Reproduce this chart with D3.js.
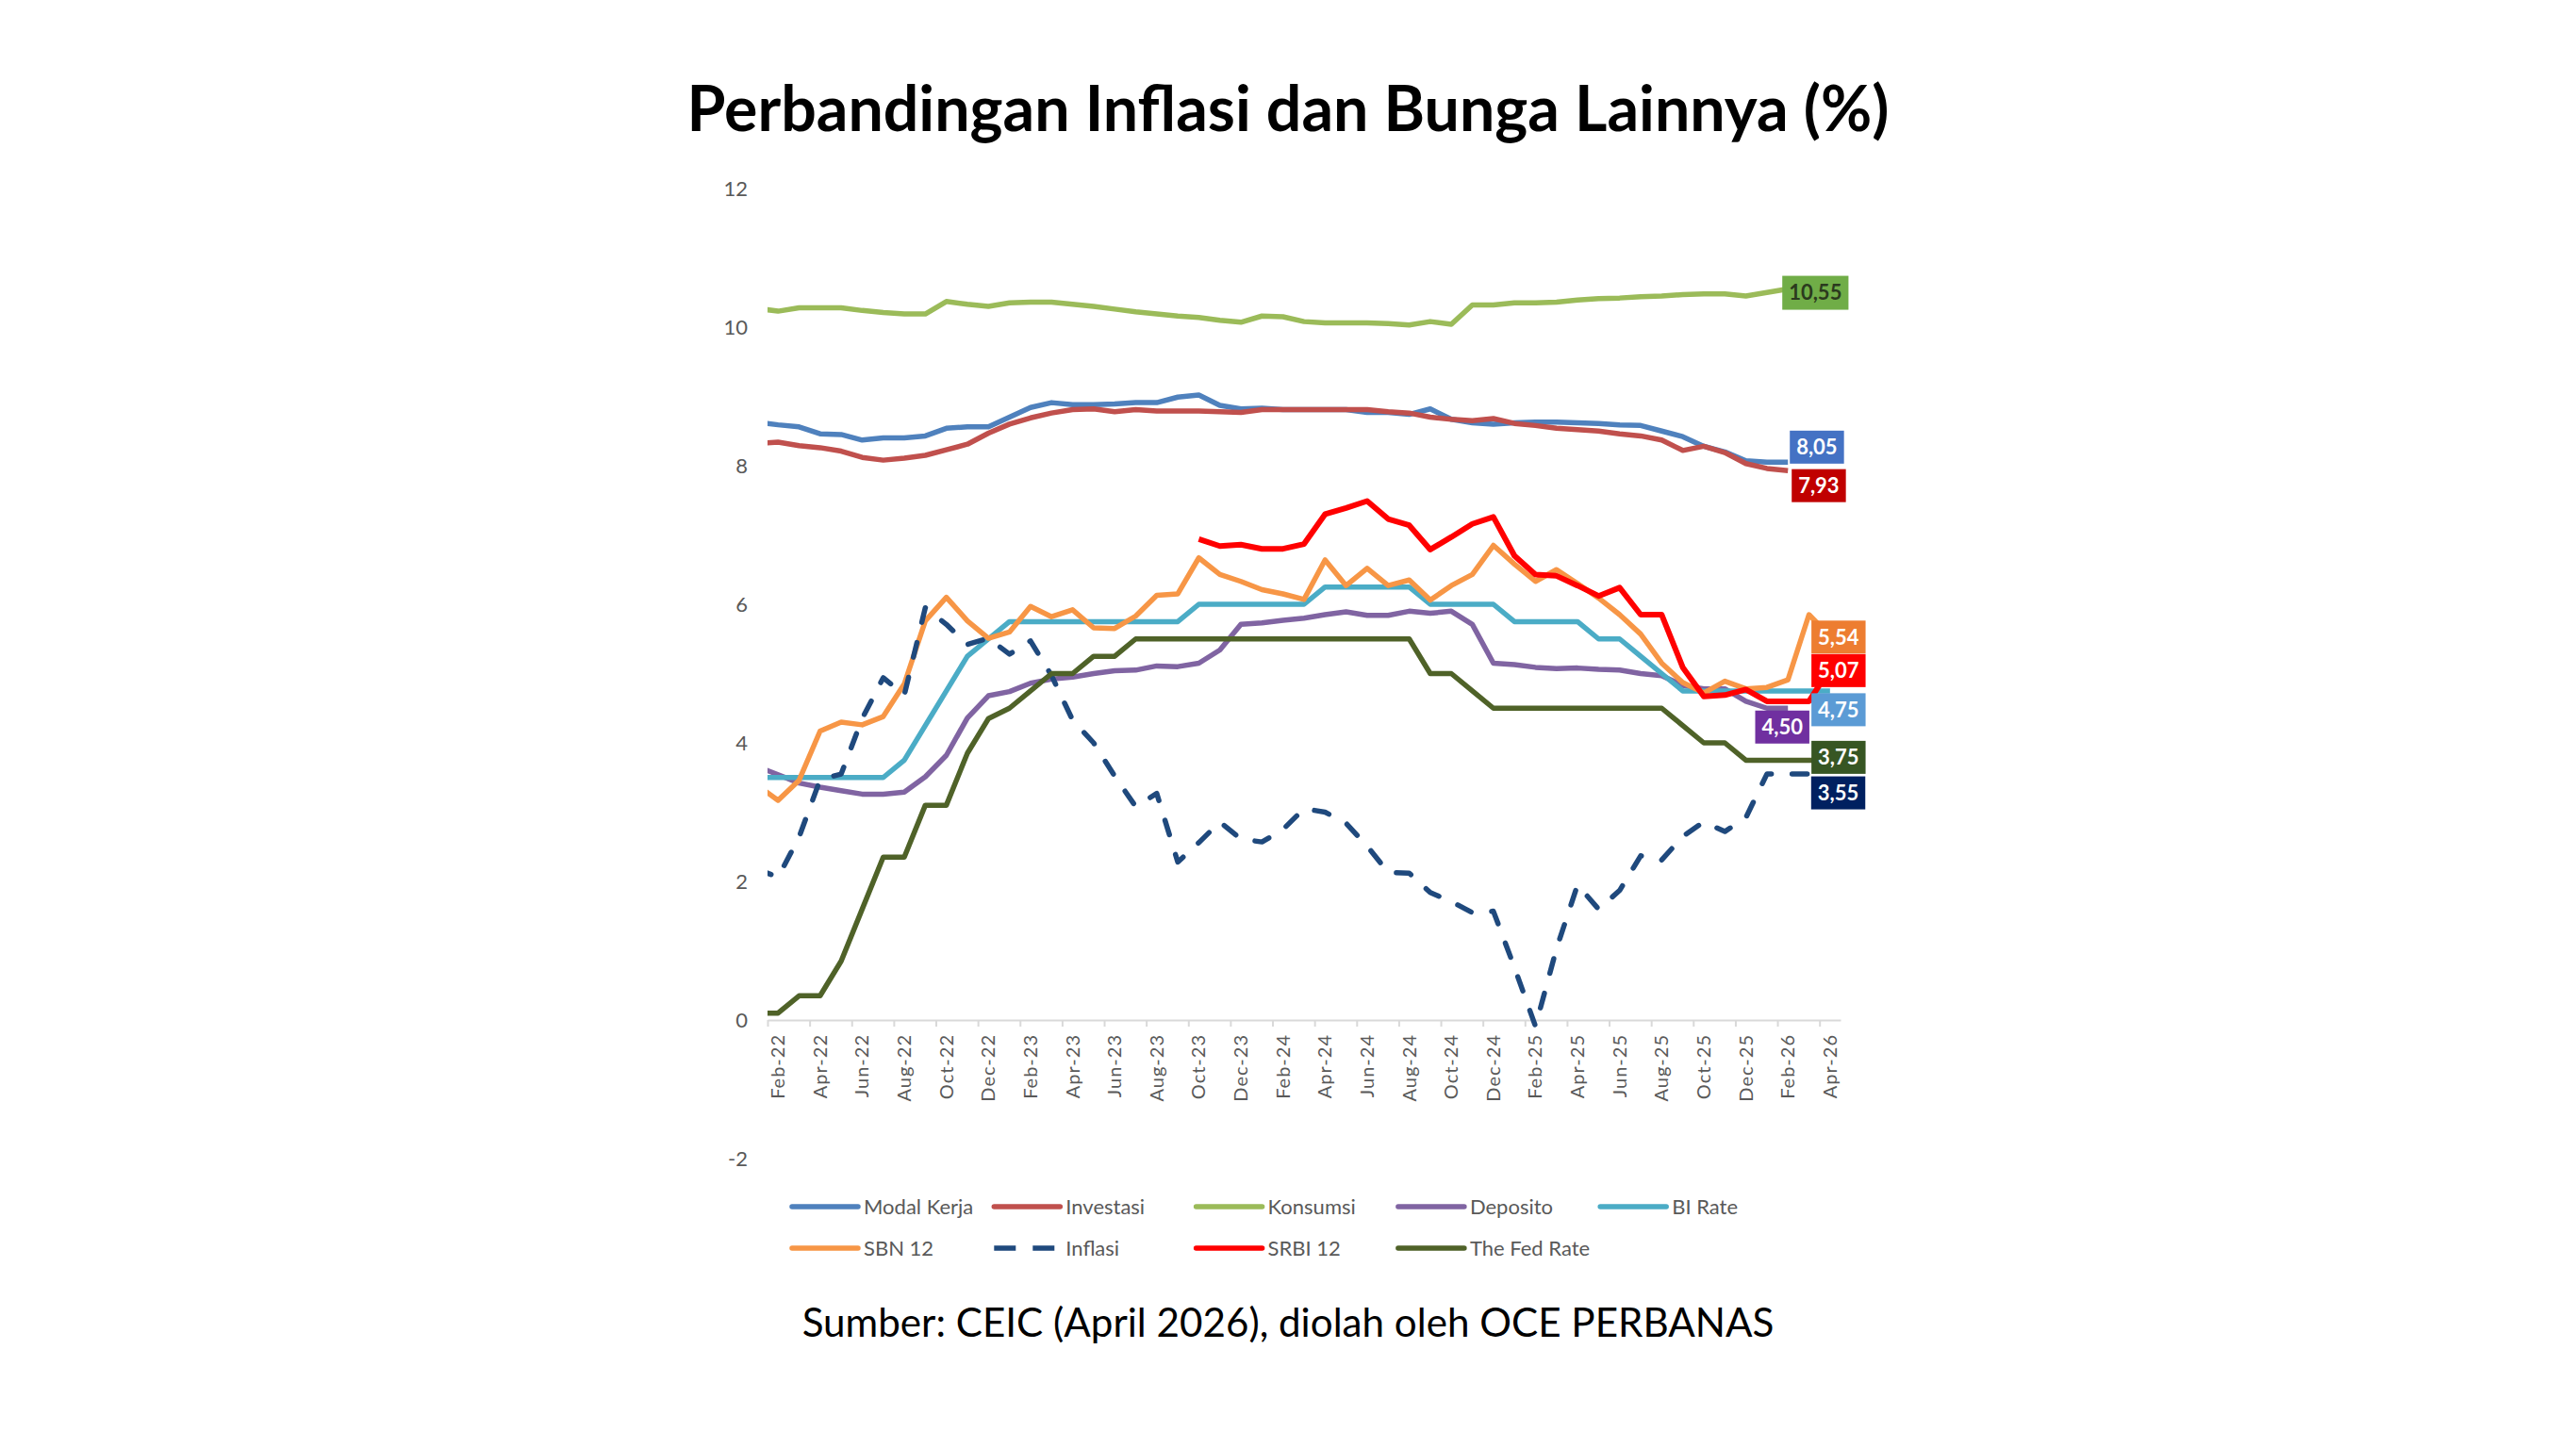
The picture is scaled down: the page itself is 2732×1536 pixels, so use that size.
<!DOCTYPE html>
<html>
<head>
<meta charset="utf-8">
<script src="https://cdn.jsdelivr.net/npm/d3@7"></script>
<style>
  body { margin: 0; background: #fff; }
  svg { display: block; }
</style>
</head>
<body>
<script>
const width = 2732;
const height = 1536;
const plot = { left: 814, right: 1952, top: 200, bottom: 1229 };

// Jan-22 sits just left of the axis start; Excel clips it at the plot edge.
const months = [
  'Jan-22', 'Feb-22', 'Mar-22', 'Apr-22', 'May-22', 'Jun-22', 'Jul-22', 'Aug-22', 'Sep-22', 'Oct-22', 'Nov-22', 'Dec-22',
  'Jan-23', 'Feb-23', 'Mar-23', 'Apr-23', 'May-23', 'Jun-23', 'Jul-23', 'Aug-23', 'Sep-23', 'Oct-23', 'Nov-23', 'Dec-23',
  'Jan-24', 'Feb-24', 'Mar-24', 'Apr-24', 'May-24', 'Jun-24', 'Jul-24', 'Aug-24', 'Sep-24', 'Oct-24', 'Nov-24', 'Dec-24',
  'Jan-25', 'Feb-25', 'Mar-25', 'Apr-25', 'May-25', 'Jun-25', 'Jul-25', 'Aug-25', 'Sep-25', 'Oct-25', 'Nov-25', 'Dec-25',
  'Jan-26', 'Feb-26', 'Mar-26', 'Apr-26',
];

const modalKerja = [
  8.63, 8.59, 8.56, 8.46, 8.45, 8.37, 8.40, 8.40, 8.43, 8.54, 8.56, 8.56,
  8.70, 8.84, 8.91, 8.88, 8.88, 8.89, 8.91, 8.91, 8.99, 9.02, 8.87, 8.82,
  8.83, 8.81, 8.81, 8.81, 8.81, 8.77, 8.77, 8.74, 8.82, 8.67, 8.62, 8.60,
  8.62, 8.63, 8.63, 8.62, 8.61, 8.59, 8.58, 8.50, 8.42, 8.28, 8.20, 8.07,
  8.05, 8.05, null, null,
];

const investasi = [
  8.32, 8.34, 8.29, 8.26, 8.21, 8.12, 8.08, 8.11, 8.15, 8.23, 8.31, 8.47,
  8.60, 8.69, 8.76, 8.81, 8.82, 8.78, 8.81, 8.79, 8.79, 8.79, 8.78, 8.77,
  8.81, 8.81, 8.81, 8.81, 8.81, 8.81, 8.78, 8.76, 8.70, 8.67, 8.65, 8.68,
  8.61, 8.58, 8.54, 8.52, 8.50, 8.46, 8.43, 8.37, 8.22, 8.28, 8.19, 8.03,
  7.96, 7.93, null, null,
];

const konsumsi = [
  10.27, 10.23, 10.28, 10.28, 10.28, 10.24, 10.21, 10.19, 10.19, 10.37, 10.33, 10.30,
  10.35, 10.36, 10.36, 10.33, 10.30, 10.26, 10.22, 10.19, 10.16, 10.14, 10.10, 10.07,
  10.16, 10.15, 10.08, 10.06, 10.06, 10.06, 10.05, 10.03, 10.08, 10.04, 10.32, 10.32,
  10.35, 10.35, 10.36, 10.39, 10.41, 10.42, 10.44, 10.45, 10.47, 10.48, 10.48, 10.45,
  10.50, 10.55, null, null,
];

const deposito = [
  3.66, 3.54, 3.42, 3.36, 3.31, 3.26, 3.26, 3.29, 3.51, 3.82, 4.36, 4.68,
  4.74, 4.86, 4.92, 4.95, 5.00, 5.04, 5.05, 5.11, 5.10, 5.15, 5.34, 5.71,
  5.73, 5.77, 5.80, 5.85, 5.89, 5.84, 5.84, 5.90, 5.87, 5.90, 5.71, 5.15,
  5.13, 5.09, 5.07, 5.08, 5.06, 5.05, 5.00, 4.97, 4.83, 4.78, 4.78, 4.60,
  4.50, 4.50, null, null,
];

const biRate = [
  3.50, 3.50, 3.50, 3.50, 3.50, 3.50, 3.50, 3.75, 4.25, 4.75, 5.25, 5.50,
  5.75, 5.75, 5.75, 5.75, 5.75, 5.75, 5.75, 5.75, 5.75, 6.00, 6.00, 6.00,
  6.00, 6.00, 6.00, 6.25, 6.25, 6.25, 6.25, 6.25, 6.00, 6.00, 6.00, 6.00,
  5.75, 5.75, 5.75, 5.75, 5.50, 5.50, 5.25, 5.00, 4.75, 4.75, 4.75, 4.75,
  4.75, 4.75, 4.75, 4.75,
];

const sbn12 = [
  3.39, 3.17, 3.46, 4.17, 4.30, 4.26, 4.38, 4.85, 5.76, 6.10, 5.76, 5.51,
  5.60, 5.97, 5.82, 5.92, 5.66, 5.65, 5.83, 6.13, 6.15, 6.67, 6.43, 6.33,
  6.21, 6.15, 6.07, 6.64, 6.27, 6.52, 6.27, 6.35, 6.06, 6.27, 6.43, 6.85,
  6.58, 6.33, 6.50, 6.30, 6.09, 5.85, 5.57, 5.15, 4.87, 4.72, 4.89, 4.78,
  4.80, 4.91, 5.85, 5.54,
];

const inflasi = [
  2.18, 2.06, 2.64, 3.47, 3.55, 4.35, 4.94, 4.69, 5.95, 5.71, 5.42, 5.51,
  5.28, 5.47, 4.97, 4.33, 4.00, 3.52, 3.08, 3.27, 2.28, 2.56, 2.86, 2.61,
  2.57, 2.75, 3.05, 3.00, 2.84, 2.51, 2.13, 2.12, 1.84, 1.71, 1.55, 1.57,
  0.76, -0.09, 1.03, 1.95, 1.60, 1.87, 2.37, 2.31, 2.65, 2.86, 2.72, 2.92,
  3.55, 3.55, 3.55, null,
];

const srbi12 = [
  null, null, null, null, null, null, null, null, null, null, null, null,
  null, null, null, null, null, null, null, null, null, 6.94, 6.84, 6.86,
  6.80, 6.80, 6.87, 7.30, 7.39, 7.49, 7.23, 7.14, 6.79, 6.97, 7.16, 7.26,
  6.70, 6.43, 6.41, 6.27, 6.12, 6.24, 5.85, 5.85, 5.09, 4.67, 4.69, 4.77,
  4.60, 4.60, 4.60, 5.07,
];

const fedRate = [
  0.10, 0.10, 0.35, 0.35, 0.85, 1.60, 2.35, 2.35, 3.10, 3.10, 3.85, 4.35,
  4.50, 4.75, 5.00, 5.00, 5.25, 5.25, 5.50, 5.50, 5.50, 5.50, 5.50, 5.50,
  5.50, 5.50, 5.50, 5.50, 5.50, 5.50, 5.50, 5.50, 5.00, 5.00, 4.75, 4.50,
  4.50, 4.50, 4.50, 4.50, 4.50, 4.50, 4.50, 4.50, 4.25, 4.00, 4.00, 3.75,
  3.75, 3.75, 3.75, 3.75,
];

const yTicks = [-2, 0, 2, 4, 6, 8, 10, 12];

const series = [
  { name: 'Modal Kerja', values: modalKerja, color: '#4F81BD' },
  { name: 'Investasi', values: investasi, color: '#C0504D' },
  { name: 'Konsumsi', values: konsumsi, color: '#9BBB59' },
  { name: 'Deposito', values: deposito, color: '#8064A2' },
  { name: 'BI Rate', values: biRate, color: '#4BACC6' },
  { name: 'SBN 12', values: sbn12, color: '#F79646' },
  { name: 'Inflasi', values: inflasi, color: '#1F497D', dash: '16,22' },
  { name: 'SRBI 12', values: srbi12, color: '#FF0000' },
  { name: 'The Fed Rate', values: fedRate, color: '#4F6228' },
];

// end-of-line value boxes, placed relative to each series' last point
const endLabels = {
  'Konsumsi': { fill: '#70AD47', text: '#2B3A1E', dx: -6, dy: 4, anchor: 'start', h: 36 },
  'Modal Kerja': { fill: '#4472C4', text: '#fff', dx: 2, dy: -16, anchor: 'start' },
  'Investasi': { fill: '#C00000', text: '#fff', dx: 4, dy: 16, anchor: 'start' },
  'SBN 12': { fill: '#ED7D31', text: '#fff', dx: 9, dy: 1, anchor: 'middle' },
  'SRBI 12': { fill: '#FF0000', text: '#fff', dx: 9, dy: 2, anchor: 'middle' },
  'BI Rate': { fill: '#5B9BD5', text: '#fff', dx: 9, dy: 20, anchor: 'middle' },
  'Deposito': { fill: '#7030A0', text: '#fff', dx: -6, dy: 20, anchor: 'middle' },
  'The Fed Rate': { fill: '#375623', text: '#fff', dx: 9, dy: -3, anchor: 'middle' },
  'Inflasi': { fill: '#002060', text: '#fff', dx: 31, dy: 20, anchor: 'middle' },
};

function main() {
  const svg = d3.select('body').append('svg').attr('width', width).attr('height', height);
  svg.append('rect').attr('width', width).attr('height', height).attr('fill', '#fff');

  const x = d3.scaleLinear().domain([0.5, months.length - 0.5]).range([plot.left, plot.right]);
  const y = d3.scaleLinear().domain([-2, 12]).range([plot.bottom, plot.top]);

  createTitles(svg);
  createYAxis(svg, y);
  createXAxis(svg, x, y);
  createLines(svg, x, y);
  createEndLabels(svg, x, y);
  createLegend(svg);
}

function fitText(sel, target) {
  const len = sel.node().getComputedTextLength();
  const size = parseFloat(sel.attr('font-size'));
  sel.attr('font-size', (size * target) / len);
}

function createTitles(svg) {
  const title = svg
    .append('text')
    .attr('x', 1366)
    .attr('y', 139)
    .attr('text-anchor', 'middle')
    .attr('font-family', 'Lato, sans-serif')
    .attr('font-weight', 700)
    .attr('font-size', 60)
    .attr('fill', '#000')
    .text('Perbandingan Inflasi dan Bunga Lainnya (%)');
  fitText(title, 1275);

  const source = svg
    .append('text')
    .attr('x', 1366)
    .attr('y', 1418)
    .attr('text-anchor', 'middle')
    .attr('font-family', 'Lato, sans-serif')
    .attr('font-size', 42)
    .attr('fill', '#000')
    .text('Sumber: CEIC (April 2026), diolah oleh OCE PERBANAS');
  fitText(source, 1031);
}

function createYAxis(svg, y) {
  const axis = d3.axisLeft(y).tickValues(yTicks).tickSize(0).tickPadding(21).tickFormat(d => String(d));
  const g = svg.append('g').attr('transform', `translate(${plot.left},0)`).call(axis);
  g.select('.domain').remove();
  g.selectAll('text')
    .attr('font-family', 'Lato, sans-serif')
    .attr('font-size', 22)
    .attr('fill', '#595959');
}

function createXAxis(svg, x, y) {
  // tick marks sit on the band edges, every two months from Feb-22
  const edges = d3.range(1, months.length, 2).map(i => i - 0.5);
  const axis = d3.axisBottom(x).tickValues(edges).tickSize(7).tickSizeOuter(0).tickFormat('');
  const g = svg.append('g').attr('transform', `translate(0,${y(0)})`).call(axis);
  g.select('.domain').attr('stroke', '#D9D9D9').attr('stroke-width', 2);
  g.selectAll('.tick line').attr('stroke', '#D9D9D9').attr('stroke-width', 2);

  const labelled = months.map((m, i) => ({ m, i })).filter(d => d.i % 2 === 1);
  svg
    .append('g')
    .selectAll('text')
    .data(labelled)
    .enter()
    .append('text')
    .attr('transform', d => `translate(${x(d.i)},${y(0) + 15}) rotate(-90)`)
    .attr('text-anchor', 'end')
    .attr('dy', '0.35em')
    .attr('font-family', 'Lato, sans-serif')
    .attr('font-size', 20)
    .attr('letter-spacing', 1)
    .attr('fill', '#595959')
    .text(d => d.m);
}

function createLines(svg, x, y) {
  svg
    .append('clipPath')
    .attr('id', 'plot-clip')
    .append('rect')
    .attr('x', plot.left)
    .attr('y', plot.top - 60)
    .attr('width', plot.right - plot.left)
    .attr('height', plot.bottom - plot.top + 80);

  const line = d3
    .line()
    .defined(d => d != null)
    .x((_, i) => x(i))
    .y(d => y(d));

  svg
    .append('g')
    .attr('clip-path', 'url(#plot-clip)')
    .selectAll('path')
    .data(series)
    .enter()
    .append('path')
    .attr('d', d => line(d.values))
    .attr('fill', 'none')
    .attr('stroke', d => d.color)
    .attr('stroke-width', d => (d.name === 'SRBI 12' ? 6 : 5.5))
    .attr('stroke-linejoin', 'round')
    .attr('stroke-linecap', d => (d.dash ? 'round' : 'butt'))
    .attr('stroke-dasharray', d => d.dash || null);
}

function createEndLabels(svg, x, y) {
  const fmt = v => d3.format('.2f')(v).replace('.', ',');
  const g = svg.append('g');

  series.forEach(s => {
    const cfg = endLabels[s.name];
    let last = s.values.length - 1;
    while (s.values[last] == null) last--;
    const v = s.values[last];
    const h = cfg.h || 35;
    const cy = y(v) + cfg.dy;

    const label = g.append('g');
    const rect = label.append('rect').attr('fill', cfg.fill);
    const text = label
      .append('text')
      .attr('y', cy)
      .attr('dy', '0.36em')
      .attr('text-anchor', 'middle')
      .attr('font-family', 'Lato, sans-serif')
      .attr('font-weight', 700)
      .attr('font-size', 22)
      .attr('fill', cfg.text)
      .text(fmt(v));

    const w = text.node().getComputedTextLength() + 14;
    const left = cfg.anchor === 'start' ? x(last) + cfg.dx : x(last) + cfg.dx - w / 2;
    text.attr('x', left + w / 2);
    rect.attr('x', left).attr('y', cy - h / 2).attr('width', w).attr('height', h);
  });
}

function createLegend(svg) {
  const item = svg
    .append('g')
    .selectAll('g')
    .data(series)
    .enter()
    .append('g')
    .attr('transform', (_, i) => `translate(${840 + (i % 5) * 214.3},${1280 + Math.floor(i / 5) * 44})`);

  item
    .append('line')
    .attr('x1', 0)
    .attr('x2', 70)
    .attr('stroke', d => d.color)
    .attr('stroke-width', 5.5)
    .attr('stroke-linecap', d => (d.dash ? 'butt' : 'round'))
    .attr('stroke-dasharray', d => (d.dash ? '23,18' : null));

  item
    .append('text')
    .attr('x', 76)
    .attr('dy', '0.35em')
    .attr('font-family', 'Lato, sans-serif')
    .attr('font-size', 22)
    .attr('fill', '#595959')
    .text(d => d.name);
}

main();
</script>
</body>
</html>
